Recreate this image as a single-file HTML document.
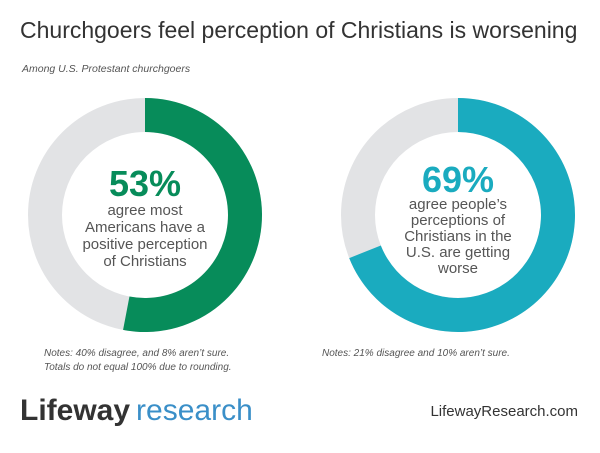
<!DOCTYPE html>
<html><head><meta charset="utf-8"><style>
body{margin:0;width:600px;height:448px;background:#fff;overflow:hidden;font-family:"Liberation Sans",sans-serif}
</style></head><body>
<svg width="600" height="448" viewBox="0 0 600 448">
<text x="20" y="38" font-size="23" fill="#333">Churchgoers feel perception of Christians is worsening</text>
<text x="22" y="72" font-size="10.5" font-style="italic" fill="#555">Among U.S. Protestant churchgoers</text>
<g id="donuts"></g>
<text x="145" y="196" text-anchor="middle" font-size="36" font-weight="bold" fill="#078c5a">53%</text>
<g font-size="15" fill="#555" text-anchor="middle">
<text x="145" y="215">agree most</text><text x="145" y="232">Americans have a</text><text x="145" y="249">positive perception</text><text x="145" y="266">of Christians</text></g>
<text x="458" y="192" text-anchor="middle" font-size="36" font-weight="bold" fill="#1aabbf">69%</text>
<g font-size="15" fill="#555" text-anchor="middle">
<text x="458" y="209">agree people’s</text><text x="458" y="225">perceptions of</text><text x="458" y="241">Christians in the</text><text x="458" y="257">U.S. are getting</text><text x="458" y="273">worse</text></g>
<g font-size="10" font-style="italic" fill="#555">
<text x="44" y="356">Notes: 40% disagree, and 8% aren’t sure.</text>
<text x="44" y="370">Totals do not equal 100% due to rounding.</text>
<text x="322" y="356">Notes: 21% disagree and 10% aren’t sure.</text></g>
<text x="20" y="420" font-size="30"><tspan font-weight="bold" fill="#333">Lifeway</tspan><tspan dx="6" fill="#3a8fc8">research</tspan></text>
<text x="578" y="416" text-anchor="end" font-size="15" fill="#333">LifewayResearch.com</text>
</svg>
<script>
const charts=["left","right"];
const values=[53,69];
const colors=["#078c5a","#1aabbf"];
const cx=[145,458], cy=215, R=117, r=83;
const g=document.getElementById('donuts');
const NS="http://www.w3.org/2000/svg";
let cx0=0;
function pt(rad,frac){const a=frac*2*Math.PI-Math.PI/2;return [cx0+rad*Math.cos(a),cy+rad*Math.sin(a)];}
charts.forEach((c,i)=>{
 cx0=cx[i];
 const bg=document.createElementNS(NS,'circle');
 bg.setAttribute('cx',cx0);bg.setAttribute('cy',cy);bg.setAttribute('r',(R+r)/2);
 bg.setAttribute('fill','none');bg.setAttribute('stroke','#e2e3e5');bg.setAttribute('stroke-width',R-r);
 
 
 g.appendChild(bg);
 const f=values[i]/100;const large=f>0.5?1:0;
 const [x1,y1]=pt(R,0),[x2,y2]=pt(R,f),[x3,y3]=pt(r,f),[x4,y4]=pt(r,0);
 const p=document.createElementNS(NS,'path');
 p.setAttribute('d',`M${x1},${y1}A${R},${R} 0 ${large} 1 ${x2},${y2}L${x3},${y3}A${r},${r} 0 ${large} 0 ${x4},${y4}Z`);
 p.setAttribute('fill',colors[i]);
 
 
 g.appendChild(p);
});
</script>
</body></html>
